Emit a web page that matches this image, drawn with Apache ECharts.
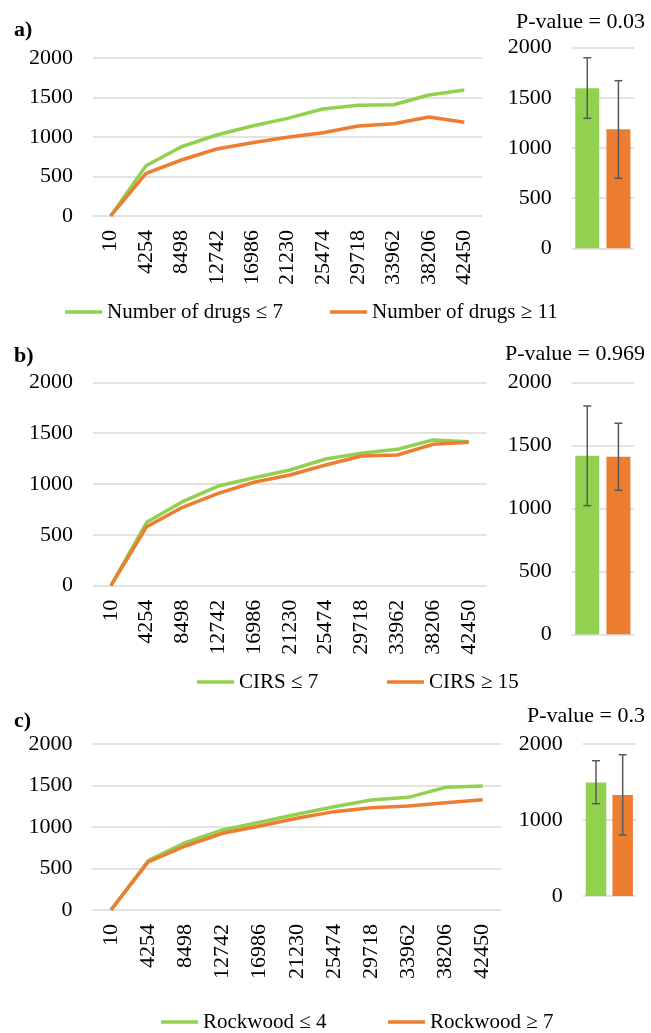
<!DOCTYPE html>
<html>
<head>
<meta charset="utf-8">
<script src="https://cdn.jsdelivr.net/npm/echarts@6/dist/echarts.min.js"></script>
<style>
  html, body { margin: 0; padding: 0; background: #ffffff; }
  #chart { width: 651px; height: 1033px; }
</style>
</head>
<body>
<div id="chart"></div>
<script>
// Sample sizes along the x axis (shared by all three panels)
const sampleTicks = ['10', '4254', '8498', '12742', '16986', '21230', '25474', '29718', '33962', '38206', '42450'];

// a) number of drugs
const drugsLowName = 'Number of drugs \u2264 7';
const drugsHighName = 'Number of drugs \u2265 11';
const drugsLow = [0, 637, 877, 1025, 1139, 1236, 1354, 1401, 1409, 1532, 1595];
const drugsHigh = [0, 540, 709, 848, 928, 996, 1054, 1139, 1168, 1253, 1186];
const drugsBars = [1595, 1186];
const drugsErr = [[1296, 1900], [698, 1671]];
const drugsP = 'P-value = 0.03';

// b) CIRS
const cirsLowName = 'CIRS \u2264 7';
const cirsHighName = 'CIRS \u2265 15';
const cirsLow = [0, 623, 826, 980, 1062, 1138, 1246, 1302, 1341, 1433, 1416];
const cirsHigh = [0, 580, 771, 908, 1017, 1088, 1187, 1275, 1285, 1390, 1410];
const cirsBars = [1417, 1410];
const cirsErr = [[1021, 1812], [1143, 1675]];
const cirsP = 'P-value = 0.969';

// c) Rockwood
const rockLowName = 'Rockwood \u2264 4';
const rockHighName = 'Rockwood \u2265 7';
const rockLow = [0, 594, 811, 964, 1057, 1153, 1245, 1325, 1357, 1478, 1494];
const rockHigh = [0, 580, 771, 924, 1012, 1105, 1185, 1233, 1253, 1293, 1329];
const rockBars = [1494, 1329];
const rockErr = [[1214, 1780], [803, 1859]];
const rockP = 'P-value = 0.3';

const GREEN = '#92d050';
const ORANGE = '#ed7d31';
const FONT = '"Liberation Serif", "Times New Roman", serif';
const GRIDLINE = '#d9d9d9';

const panels = [
  {
    letter: 'a)', p: drugsP, low: drugsLow, high: drugsHigh, lowName: drugsLowName, highName: drugsHighName,
    bars: drugsBars, err: drugsErr,
    lineGrid: { left: 93, top: 58, width: 389, height: 158 },
    barGrid: { left: 571.7, top: 47.7, width: 62.3, height: 200.6 },
    barInterval: 500, barWidth: 24,
    letterTop: 17, pTop: 9,
    legendTop: 300, legendLeft: [65, 330]
  },
  {
    letter: 'b)', p: cirsP, low: cirsLow, high: cirsHigh, lowName: cirsLowName, highName: cirsHighName,
    bars: cirsBars, err: cirsErr,
    lineGrid: { left: 93, top: 382.3, width: 393.7, height: 203.4 },
    barGrid: { left: 571.7, top: 382.3, width: 62.3, height: 252 },
    barInterval: 500, barWidth: 24,
    letterTop: 343, pTop: 341,
    legendTop: 670, legendLeft: [197, 387]
  },
  {
    letter: 'c)', p: rockP, low: rockLow, high: rockHigh, lowName: rockLowName, highName: rockHighName,
    bars: rockBars, err: rockErr,
    lineGrid: { left: 92.4, top: 744, width: 408.9, height: 166 },
    barGrid: { left: 582.7, top: 744, width: 53.3, height: 152 },
    barInterval: 1000, barWidth: 20.5,
    letterTop: 708, pTop: 703,
    legendTop: 1010, legendLeft: [161, 388]
  }
];

const textBase = { fontFamily: FONT, fontSize: 22, color: '#000000' };
const plainNumber = function (v) { return String(v); };

const option = {
  backgroundColor: '#ffffff',
  animation: false,
  title: [],
  legend: [],
  grid: [],
  xAxis: [],
  yAxis: [],
  series: []
};

// vertical error bar with short caps
function errorBarRenderer(params, api) {
  const x = api.value(0);
  const lo = api.coord([x, api.value(1)]);
  const hi = api.coord([x, api.value(2)]);
  const cap = 4;
  const style = { stroke: '#595959', lineWidth: 1.5 };
  return {
    type: 'group',
    children: [
      { type: 'line', shape: { x1: lo[0], y1: lo[1], x2: hi[0], y2: hi[1] }, style: style },
      { type: 'line', shape: { x1: lo[0] - cap, y1: lo[1], x2: lo[0] + cap, y2: lo[1] }, style: style },
      { type: 'line', shape: { x1: hi[0] - cap, y1: hi[1], x2: hi[0] + cap, y2: hi[1] }, style: style }
    ]
  };
}

panels.forEach(function (pn, i) {
  const gLine = i * 2;
  const gBar = i * 2 + 1;

  option.title.push({
    text: pn.letter, left: 14, top: pn.letterTop, padding: 0,
    textStyle: Object.assign({}, textBase, { fontWeight: 'bold', lineHeight: 26 })
  });
  option.title.push({
    text: pn.p, right: 6, top: pn.pTop, padding: 0,
    textStyle: Object.assign({}, textBase, { fontWeight: 'normal', lineHeight: 26 })
  });

  [pn.lowName, pn.highName].forEach(function (name, k) {
    option.legend.push({
      data: [name], left: pn.legendLeft[k], top: pn.legendTop, padding: 0,
      icon: 'rect', itemWidth: 37, itemHeight: 3.5,
      textStyle: { fontFamily: FONT, fontSize: 21, color: '#000000', lineHeight: 24 },
      selectedMode: false
    });
  });

  option.grid.push(pn.lineGrid);
  option.grid.push(pn.barGrid);

  // line panel axes
  option.xAxis.push({
    type: 'category', gridIndex: gLine, data: sampleTicks, boundaryGap: true,
    axisLine: { show: false }, axisTick: { show: false },
    axisLabel: Object.assign({}, textBase, { rotate: 90, margin: 14, interval: 0 })
  });
  option.yAxis.push({
    type: 'value', gridIndex: gLine, min: 0, max: 2000, interval: 500,
    axisLine: { show: false }, axisTick: { show: false },
    axisLabel: Object.assign({}, textBase, { margin: 20, formatter: plainNumber }),
    splitLine: { lineStyle: { color: GRIDLINE, width: 1.5 } }
  });

  // bar panel axes
  option.xAxis.push({
    type: 'category', gridIndex: gBar, data: [pn.lowName, pn.highName], boundaryGap: true,
    axisLine: { show: false }, axisTick: { show: false }, axisLabel: { show: false }
  });
  option.yAxis.push({
    type: 'value', gridIndex: gBar, min: 0, max: 2000, interval: pn.barInterval,
    axisLine: { show: false }, axisTick: { show: false },
    axisLabel: Object.assign({}, textBase, { margin: 20, formatter: plainNumber }),
    splitLine: { lineStyle: { color: GRIDLINE, width: 1.5 } }
  });

  option.series.push({
    name: pn.lowName, type: 'line', xAxisIndex: gLine, yAxisIndex: gLine,
    data: pn.low, symbol: 'none', color: GREEN,
    lineStyle: { color: GREEN, width: 3.5, join: 'round' }, z: 3
  });
  option.series.push({
    name: pn.highName, type: 'line', xAxisIndex: gLine, yAxisIndex: gLine,
    data: pn.high, symbol: 'none', color: ORANGE,
    lineStyle: { color: ORANGE, width: 3.5, join: 'round' }, z: 4
  });

  option.series.push({
    type: 'bar', xAxisIndex: gBar, yAxisIndex: gBar, barWidth: pn.barWidth,
    data: [
      { value: pn.bars[0], itemStyle: { color: GREEN } },
      { value: pn.bars[1], itemStyle: { color: ORANGE } }
    ],
    z: 2
  });
  option.series.push({
    type: 'custom', xAxisIndex: gBar, yAxisIndex: gBar,
    renderItem: errorBarRenderer,
    encode: { x: 0, y: [1, 2] },
    data: [[0, pn.err[0][0], pn.err[0][1]], [1, pn.err[1][0], pn.err[1][1]]],
    z: 5
  });
});

const chart = echarts.init(document.getElementById('chart'), null, { renderer: 'canvas' });
chart.setOption(option);
</script>
</body>
</html>
